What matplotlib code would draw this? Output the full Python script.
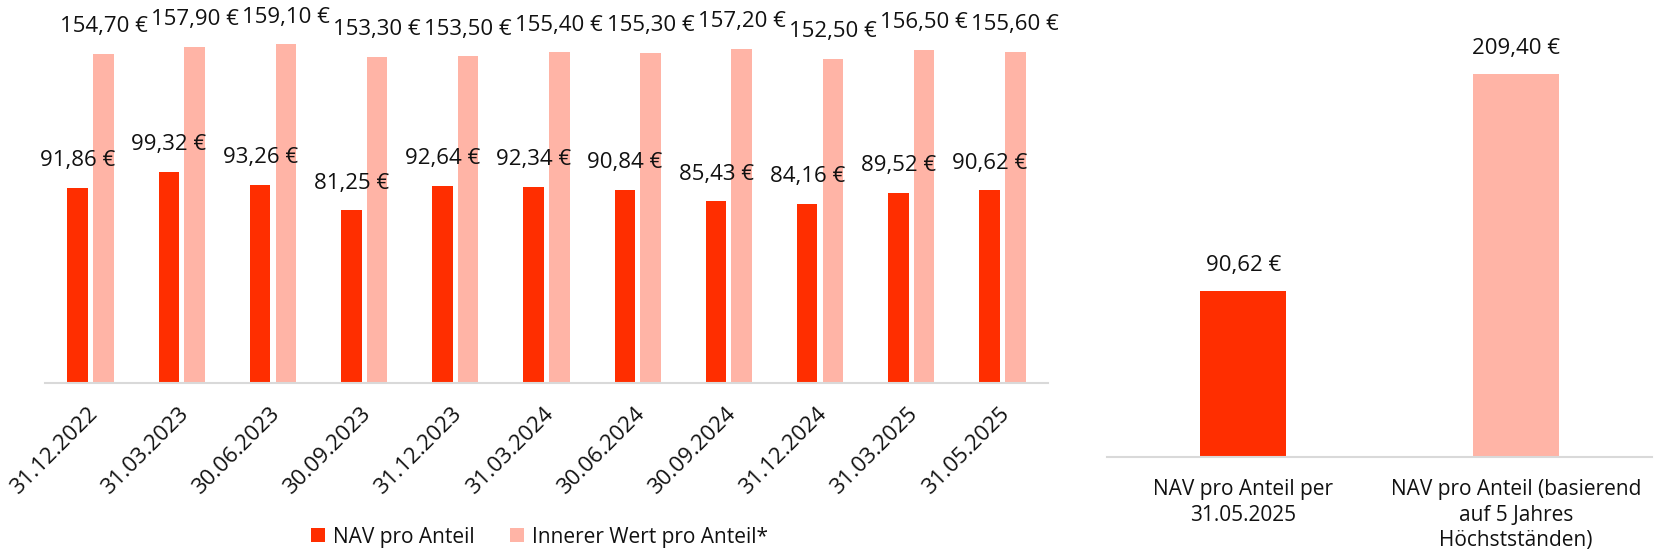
import matplotlib
matplotlib.use("Agg")
import matplotlib.pyplot as plt
from matplotlib.patches import Patch
from matplotlib.transforms import ScaledTranslation
import numpy as np

plt.rcParams['font.family'] = ['Open Sans', 'DejaVu Sans']

dates = ["31.12.2022", "31.03.2023", "30.06.2023", "30.09.2023", "31.12.2023",
         "31.03.2024", "30.06.2024", "30.09.2024", "31.12.2024", "31.03.2025",
         "31.05.2025"]
nav = [91.86, 99.32, 93.26, 81.25, 92.64, 92.34, 90.84, 85.43, 84.16, 89.52, 90.62]
inner = [154.70, 157.90, 159.10, 153.30, 153.50, 155.40, 155.30, 157.20, 152.50,
         156.50, 155.60]
series_names = ["NAV pro Anteil", "Innerer Wert pro Anteil*"]

right_cats = ["NAV pro Anteil per\n31.05.2025",
              "NAV pro Anteil (basierend\nauf 5 Jahres\nHöchstständen)"]
right_vals = [90.62, 209.40]

C_NAV = "#FF2E00"
C_INN = "#FFB4A6"
C_AX = "#D9D9D9"
C_TXT = "#111111"
FS = 16
FS2 = 15

def fmt(v):
    return f"{v:.2f}".replace(".", ",") + " €"

W, H = 1657, 554
fig = plt.figure(figsize=(W / 100, H / 100), dpi=100)

# Left chart
axl = fig.add_axes([45 / W, 171 / H, 1003 / W, 383 / H])
x = np.arange(len(dates))
bw = 0.225
off = 0.141
b1 = axl.bar(x - off, nav, bw, color=C_NAV)
b2 = axl.bar(x + off, inner, bw, color=C_INN)
for bars, vals in ((b1, nav), (b2, inner)):
    for rect, v in zip(bars, vals):
        axl.annotate(fmt(v), (rect.get_x() + rect.get_width() / 2, v),
                     xytext=(0, 19.5), textcoords="offset points",
                     ha="center", va="center", fontsize=FS, color=C_TXT)
axl.set_xlim(-0.5, len(dates) - 0.5)
axl.set_ylim(0, 180)
axl.set_xticks(x)
axl.set_xticklabels(dates, rotation=45, ha="right", fontsize=FS, color=C_TXT)
axl.tick_params(axis="x", length=0, pad=15)
for lbl in axl.get_xticklabels():
    lbl.set_transform(lbl.get_transform() + ScaledTranslation(11 / 100, 0, fig.dpi_scale_trans))
axl.set_yticks([])
for s in ("top", "left", "right"):
    axl.spines[s].set_visible(False)
axl.spines["bottom"].set_color(C_AX)
axl.spines["bottom"].set_linewidth(1.5)
axl.patch.set_alpha(0)

handles = [Patch(facecolor=C_NAV), Patch(facecolor=C_INN)]
fig.legend(handles, series_names, loc="center", ncol=2, frameon=False,
           bbox_to_anchor=(539.5 / W, 1 - 537 / H), fontsize=FS2,
           handlelength=0.67, handleheight=0.67, handletextpad=0.4,
           columnspacing=1.7, labelcolor=C_TXT)

# Right chart
axr = fig.add_axes([1107 / W, 97.5 / H, 545 / W, 456.5 / H])
xr = np.arange(len(right_cats))
br = axr.bar(xr, right_vals, 0.316, color=[C_NAV, C_INN])
for rect, v in zip(br, right_vals):
    axr.annotate(fmt(v), (rect.get_x() + rect.get_width() / 2, v),
                 xytext=(0, 18.5), textcoords="offset points",
                 ha="center", va="center", fontsize=FS, color=C_TXT)
axr.set_xlim(-0.5, 1.5)
axr.set_ylim(0, 250)
axr.set_xticks(xr)
axr.set_xticklabels(right_cats, fontsize=FS2, color=C_TXT, linespacing=1.3, va="top")
axr.tick_params(axis="x", length=0, pad=16)
axr.set_yticks([])
for s in ("top", "left", "right"):
    axr.spines[s].set_visible(False)
axr.spines["bottom"].set_color(C_AX)
axr.spines["bottom"].set_linewidth(1.5)
axr.patch.set_alpha(0)

fig.savefig("out.png", dpi=100, facecolor="white")
